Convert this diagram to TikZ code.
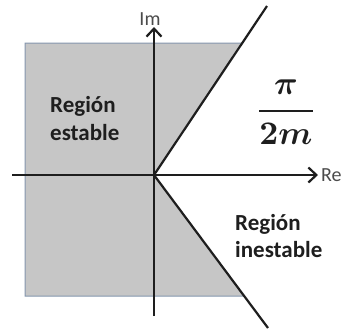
\documentclass[tikz,border=0pt]{standalone}
\usepackage{fontspec}
\setmainfont{Carlito}
\usetikzlibrary{calc,arrows.meta}
\definecolor{regiongray}{HTML}{C6C6C6}
\definecolor{rim}{HTML}{8496AE}
\definecolor{ink}{HTML}{1E1E1E}
\tikzset{
  axis/.style={line width=2.3pt, ink, -{Straight Barb[length=8pt,width=15pt,line width=2.2pt]}},
  ray/.style={line width=2.2pt, ink},
  region/.style={font=\bfseries\fontsize{23}{27}\selectfont, text=ink, inner sep=0pt, anchor=base west},
  axlabel/.style={font=\fontsize{20}{22}\selectfont, text=ink!80, inner sep=0pt},
  fracstyle/.style={inner sep=0pt, text=ink, scale=3.3, font=\mathversion{bold}}
}
\begin{document}
\begin{tikzpicture}[x=1pt,y=-1pt]
\useasboundingbox (0,0) rectangle (353,330);
\coordinate (O) at (154,175);
\coordinate (U) at (267,6);
\coordinate (L) at (268,328);
\coordinate (TL) at (25,43);
\coordinate (BL) at (25,296);
\coordinate (TR) at ($(O)!0.781!(U)$);
\coordinate (BR) at ($(O)!0.791!(L)$);
\fill[regiongray] (TL) -- (TR) -- (O) -- (BR) -- (BL) -- cycle;
\draw[rim, line width=1pt] (TR) -- (TL) -- (BL) -- (BR);
\coordinate (xs) at (12,175);
\coordinate (xe) at (318,175);
\coordinate (ys) at (154,316);
\coordinate (ye) at (154,27);
\draw[axis] (xs) -- (xe);
\draw[axis] (ys) -- (ye);
\draw[ray] (O) -- (U);
\draw[ray] (O) -- (L);
\node[axlabel, anchor=base] (im) at (150,25) {Im};
\node[axlabel, anchor=base west] (re) at (321,181) {Re};
\node[region] (est1) at (50,112.5) {Región};
\node[region] (est2) at (50,140) {estable};
\node[region] (ine1) at (235,230) {Región};
\node[region] (ine2) at (235,257) {inestable};
\node[fracstyle] (frac) at (286,112) {$\displaystyle\frac{\pi}{2m}$};
\end{tikzpicture}
\end{document}
